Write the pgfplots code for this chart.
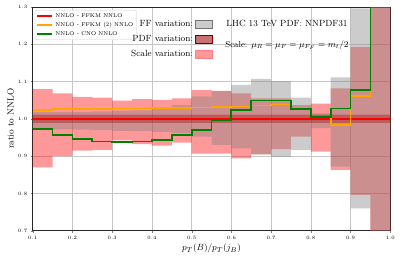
\documentclass[border=0pt]{standalone}
\usepackage{pgfplots}
\pgfplotsset{compat=1.18}
\usepackage{pgfplotstable}
\usepgfplotslibrary{fillbetween}
\definecolor{mplorange}{RGB}{255,165,0}
\definecolor{mplgreen}{RGB}{0,128,0}
\definecolor{pdfc}{RGB}{153,0,0}

\pgfplotstableread{
x    su    sl    fu    fl    pu    pl    oran  gr
0.10 1.080 0.870 1.019 0.972 1.011 0.989 1.0245 0.973
0.15 1.068 0.900 1.019 0.972 1.011 0.989 1.0258 0.957
0.20 1.059 0.915 1.019 0.971 1.011 0.989 1.027 0.945
0.25 1.057 0.917 1.020 0.970 1.011 0.989 1.027 0.939
0.30 1.049 0.942 1.022 0.968 1.011 0.989 1.028 0.938
0.35 1.053 0.932 1.023 0.967 1.011 0.989 1.028 0.939
0.40 1.050 0.928 1.026 0.965 1.011 0.989 1.029 0.944
0.45 1.055 0.936 1.037 0.962 1.011 0.989 1.029 0.956
0.50 1.077 0.907 1.060 0.952 1.011 0.989 1.030 0.970
0.55 1.075 0.907 1.075 0.930 1.011 0.989 1.031 0.997
0.60 1.068 0.894 1.091 0.921 1.011 0.989 1.033 1.024
0.65 1.055 0.905 1.107 0.905 1.011 0.989 1.036 1.049
0.70 1.055 0.919 1.101 0.898 1.011 0.989 1.039 1.049
0.75 1.037 0.952 1.057 0.916 1.011 0.989 1.027 1.026
0.80 1.041 0.912 1.015 0.975 1.011 0.989 1.006 1.006
0.85 1.082 0.863 1.111 0.872 1.011 0.989 0.983 1.028
0.90 1.193 0.796 1.296 0.760 1.011 0.989 1.062 1.078
0.95 1.400 0.600 1.400 0.600 1.011 0.989 1.400 1.400
1.00 1.400 0.600 1.400 0.600 1.011 0.989 1.400 1.400
}\data

\begin{document}
\begin{tikzpicture}
\path (0,0) rectangle (407bp,271bp);
\begin{axis}[
  at={(32.7bp,40.3bp)}, anchor=south west,
  width=357.6bp, height=223.7bp, scale only axis,
  xmin=0.1, xmax=1.0, ymin=0.7, ymax=1.3,
  xtick={0.1,0.2,...,1.0}, ytick={0.7,0.8,...,1.3},
  grid=major, grid style={line width=0.6bp, black!22},
  tick align=outside, xtick pos=bottom, ytick pos=left,
  major tick length=2bp,
  tick label style={font=\fontsize{4.3}{5}\selectfont},
  xticklabel style={/pgf/number format/.cd, fixed, fixed zerofill, precision=1},
  yticklabel style={/pgf/number format/.cd, fixed, fixed zerofill, precision=1},
  xlabel={$p_T(B)/p_T(j_B)$},
  ylabel={ratio to NNLO},
  xlabel style={font=\fontsize{9.5}{11}\selectfont, at={(axis description cs:0.5,-0.078)}, anchor=center},
  ylabel style={font=\fontsize{9}{11}\selectfont, at={(axis description cs:-0.062,0.5)}, anchor=center},
  axis line style={line width=0.7bp, black!85},
  legend style={at={(0.006,0.987)}, anchor=north west,
    font=\fontsize{5.5}{6.5}\selectfont, draw=black!20, rounded corners=1.5bp,
    fill=white, fill opacity=0.8, text opacity=1, draw opacity=1,
    inner sep=1.2bp, row sep=-0.5bp},
  legend cell align=left,
  legend image code/.code={\draw[#1, line width=2.2bp] (0bp,0bp) -- (15bp,0bp);},
]
% scale variation
\addplot[draw=none, const plot, name path=su, forget plot] table[x=x, y=su] {\data};
\addplot[draw=none, const plot, name path=sl, forget plot] table[x=x, y=sl] {\data};
\addplot[fill=red, fill opacity=0.4, draw=none, forget plot] fill between[of=su and sl];
% FF variation
\addplot[draw=none, const plot, name path=fu, forget plot] table[x=x, y=fu] {\data};
\addplot[draw=none, const plot, name path=fl, forget plot] table[x=x, y=fl] {\data};
\addplot[fill=gray, fill opacity=0.4, draw=none, forget plot] fill between[of=fu and fl];
% PDF variation
\addplot[draw=none, const plot, name path=pu, forget plot] table[x=x, y=pu] {\data};
\addplot[draw=none, const plot, name path=pl, forget plot] table[x=x, y=pl] {\data};
\addplot[fill=pdfc, fill opacity=0.35, draw=none, forget plot] fill between[of=pu and pl];
% lines
\addplot[red, line width=2.2bp, const plot] coordinates {(0.1,1.0) (1.0,1.0)};
\addlegendentry{NNLO - FFKM NNLO}
\addplot[mplorange, line width=1.6bp, const plot] table[x=x, y=oran] {\data};
\addlegendentry{NNLO - FFKM (2) NNLO}
\addplot[mplgreen, line width=1.8bp, const plot] table[x=x, y=gr] {\data};
\addlegendentry{NNLO - CNO NNLO}
\node[font=\fontsize{9}{11}\selectfont] at (rel axis cs:0.711,0.925) {LHC 13 TeV PDF: NNPDF31};
\node[font=\fontsize{8.6}{11}\selectfont] at (rel axis cs:0.711,0.830) {Scale: $\mu_R=\mu_F=\mu_{F_F}=m_t/2$};
\end{axis}
\begin{axis}[
  at={(32.7bp,40.3bp)}, anchor=south west,
  width=357.6bp, height=223.7bp, scale only axis,
  hide axis, xmin=0, xmax=1, ymin=0, ymax=1,
  legend style={at={(0.503,0.950)}, anchor=north east, draw=none, fill=none,
    font=\fontsize{9}{11}\selectfont, inner sep=0pt, row sep=3.2bp},
  legend plot pos=right, legend cell align=right,
  legend image code/.code={\draw[#1] (0bp,-4bp) rectangle (17bp,4bp);},
]
\addplot[draw=none, forget plot] coordinates {(0,0) (1,1)};
\addlegendimage{fill=gray, fill opacity=0.4, draw=black!55}
\addlegendentry{FF variation:}
\addlegendimage{fill=pdfc, fill opacity=0.55, draw=pdfc!80!black}
\addlegendentry{PDF variation:}
\addlegendimage{fill=red, fill opacity=0.4, draw=red!50}
\addlegendentry{Scale variation:}
\end{axis}
\end{tikzpicture}
\end{document}
